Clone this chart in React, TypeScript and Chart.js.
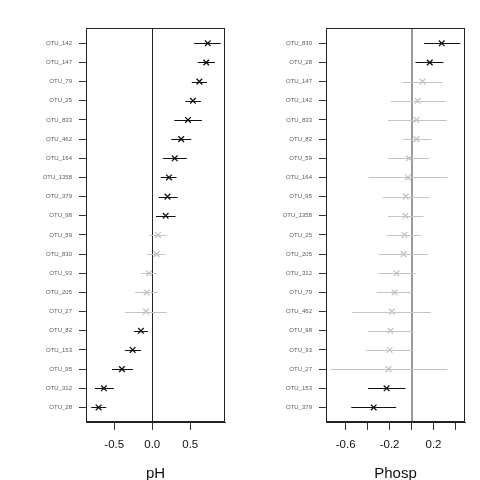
import React, { useEffect, useRef } from "react";
import { Chart, registerables } from "chart.js";

Chart.register(...registerables);

// ---- pH panel data ----
const phLabels = ["OTU_142", "OTU_147", "OTU_79", "OTU_25", "OTU_833", "OTU_462", "OTU_164", "OTU_1358", "OTU_379", "OTU_98", "OTU_59", "OTU_830", "OTU_93", "OTU_205", "OTU_27", "OTU_82", "OTU_153", "OTU_95", "OTU_312", "OTU_28"];
const phEst = [0.73, 0.71, 0.62, 0.535, 0.47, 0.38, 0.295, 0.22, 0.2, 0.176, 0.075, 0.057, -0.043, -0.074, -0.083, -0.149, -0.258, -0.399, -0.636, -0.706];
const phLow = [0.55, 0.6, 0.52, 0.435, 0.29, 0.25, 0.14, 0.114, 0.084, 0.049, -0.04, -0.066, -0.149, -0.228, -0.355, -0.241, -0.36, -0.53, -0.754, -0.803];
const phHigh = [0.9, 0.825, 0.72, 0.64, 0.654, 0.513, 0.456, 0.32, 0.334, 0.307, 0.19, 0.176, 0.057, 0.075, 0.19, -0.057, -0.149, -0.254, -0.504, -0.605];
const phSig = [true, true, true, true, true, true, true, true, true, true, false, false, false, false, false, true, true, true, true, true];
const phTicks = [-0.5, 0, 0.5];
const phTickLabels = ["-0.5", "0.0", "0.5"];

// ---- Phosp panel data ----
const phospLabels = ["OTU_830", "OTU_28", "OTU_147", "OTU_142", "OTU_833", "OTU_82", "OTU_59", "OTU_164", "OTU_95", "OTU_1358", "OTU_25", "OTU_205", "OTU_312", "OTU_79", "OTU_462", "OTU_98", "OTU_93", "OTU_27", "OTU_153", "OTU_379"];
const phospEst = [0.275, 0.166, 0.1, 0.057, 0.045, 0.045, -0.025, -0.034, -0.052, -0.055, -0.064, -0.073, -0.136, -0.155, -0.179, -0.191, -0.2, -0.209, -0.227, -0.345];
const phospLow = [0.115, 0.036, -0.088, -0.188, -0.215, -0.079, -0.212, -0.39, -0.264, -0.215, -0.222, -0.297, -0.303, -0.318, -0.543, -0.397, -0.412, -0.734, -0.397, -0.549];
const phospHigh = [0.445, 0.29, 0.285, 0.312, 0.321, 0.182, 0.16, 0.33, 0.164, 0.109, 0.091, 0.148, 0.036, 0.006, 0.175, 0.018, 0.018, 0.327, -0.055, -0.14];
const phospSig = [true, true, false, false, false, false, false, false, false, false, false, false, false, false, false, false, false, false, true, true];
const phospTicks = [-0.6, -0.4, -0.2, 0, 0.2, 0.4];
const phospTickLabels = ["-0.6", "", "-0.2", "", "0.2", ""];

const FONT = "'Liberation Sans', Arial, sans-serif";
const SIG = "#111111";
const NS = "#c4c4c4";

type Panel = {
  title: string;
  labels: string[];
  est: number[];
  low: number[];
  high: number[];
  sig: boolean[];
  ticks: number[];
  tickLabels: string[];
  xmin: number;
  xmax: number;
  zeroColor: string;
  zeroWidth: number;
  rightPad: number;
};

const panels: Panel[] = [
  { title: "pH", labels: phLabels, est: phEst, low: phLow, high: phHigh, sig: phSig, ticks: phTicks, tickLabels: phTickLabels, xmin: -0.872, xmax: 0.957, zeroColor: "#222222", zeroWidth: 1, rightPad: 15 },
  { title: "Phosp", labels: phospLabels, est: phospEst, low: phospLow, high: phospHigh, sig: phospSig, ticks: phospTicks, tickLabels: phospTickLabels, xmin: -0.779, xmax: 0.487, zeroColor: "#9a9a9a", zeroWidth: 2, rightPad: 15 },
];

function ForestPanel({ p }: { p: Panel }) {
  const ref = useRef<HTMLCanvasElement | null>(null);
  useEffect(() => {
    if (!ref.current) return;
    const colors = p.sig.map((s) => (s ? SIG : NS));
    const bgPlugin = {
      id: "forestBars",
      beforeDatasetsDraw(chart: any) {
        const { ctx, chartArea, scales } = chart;
        const xs = scales.x;
        const ys = scales.y;
        ctx.save();
        // zero line
        const zx = Math.round(xs.getPixelForValue(0)) + (p.zeroWidth % 2 ? 0.5 : 0);
        ctx.strokeStyle = p.zeroColor;
        ctx.lineWidth = p.zeroWidth;
        ctx.beginPath();
        ctx.moveTo(zx, chartArea.top);
        ctx.lineTo(zx, chartArea.bottom);
        ctx.stroke();
        // error bars
        ctx.lineWidth = 1;
        p.labels.forEach((_, i) => {
          const y = Math.round(ys.getPixelForValue(i)) + 0.5;
          ctx.strokeStyle = colors[i];
          ctx.beginPath();
          ctx.moveTo(xs.getPixelForValue(p.low[i]), y);
          ctx.lineTo(xs.getPixelForValue(p.high[i]), y);
          ctx.stroke();
        });
        ctx.restore();
      },
      afterDraw(chart: any) {
        const { ctx, chartArea } = chart;
        ctx.save();
        ctx.strokeStyle = "#222222";
        ctx.lineWidth = 1;
        ctx.strokeRect(
          Math.round(chartArea.left) + 0.5,
          Math.round(chartArea.top) + 0.5,
          Math.round(chartArea.right - chartArea.left) - 1,
          Math.round(chartArea.bottom - chartArea.top) - 1
        );
        ctx.restore();
      },
    };
    const chart = new Chart(ref.current, {
      type: "scatter",
      data: {
        datasets: [
          {
            data: p.est.map((v, i) => ({ x: v, y: i })),
            pointStyle: "crossRot",
            pointRadius: 4,
            pointBorderWidth: 1.3,
            pointBorderColor: colors,
            pointBackgroundColor: colors,
          },
        ],
      },
      options: {
        animation: false,
        responsive: false,
        layout: { padding: { left: 0, right: p.rightPad, top: 28, bottom: 0 } },
        plugins: { legend: { display: false }, tooltip: { enabled: false } },
        scales: {
          x: {
            type: "linear",
            min: p.xmin,
            max: p.xmax,
            afterBuildTicks: (s: any) => {
              s.ticks = p.ticks.map((v) => ({ value: v }));
            },
            afterFit: (s: any) => {
              s.height = 58;
            },
            ticks: {
              autoSkip: false,
              maxRotation: 0,
              padding: 8,
              color: "#111111",
              font: { family: FONT, size: 11.5 },
              callback: (v: any) => {
                const idx = p.ticks.findIndex((t) => Math.abs(t - Number(v)) < 1e-6);
                return idx >= 0 ? p.tickLabels[idx] : "";
              },
            },
            grid: { drawOnChartArea: false, tickLength: 8, color: "#333333", tickColor: "#333333" },
            border: { display: true, color: "#222222" },
            title: { display: true, text: p.title, color: "#111111", font: { family: FONT, size: 15 }, padding: { top: 0, bottom: -3 } },
          },
          y: {
            type: "linear",
            reverse: true,
            min: -0.8,
            max: 19.76,
            afterBuildTicks: (s: any) => {
              s.ticks = p.labels.map((_, i) => ({ value: i }));
            },
            afterFit: (s: any) => {
              s.width = 86;
            },
            ticks: {
              autoSkip: false,
              padding: 7,
              color: "#5a5a5a",
              font: { family: FONT, size: 6 },
              callback: (v: any) => p.labels[Math.round(Number(v))] ?? "",
            },
            grid: { drawOnChartArea: false, tickLength: 7, color: "#333333", tickColor: "#333333" },
            border: { display: true, color: "#222222" },
          },
        },
      },
      plugins: [bgPlugin],
    } as any);
    return () => chart.destroy();
  }, [p]);
  return <canvas ref={ref} width={240} height={480} style={{ width: 240, height: 480, display: "block" }} />;
}

export default function App() {
  return (
    <div style={{ position: "fixed", left: 0, top: 0, width: 480, height: 480, background: "#ffffff", display: "flex" }}>
      {panels.map((p) => (
        <ForestPanel key={p.title} p={p} />
      ))}
    </div>
  );
}
